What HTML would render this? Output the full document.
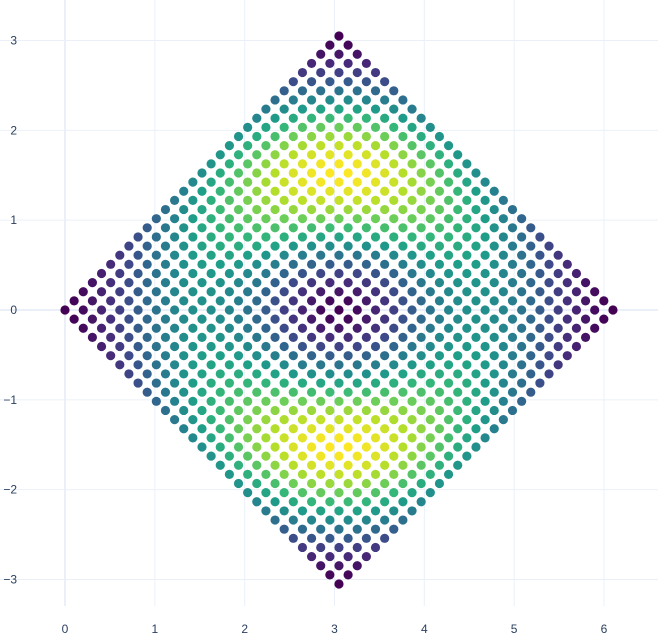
<!DOCTYPE html>
<html><head><meta charset="utf-8">
<style>
html,body{margin:0;padding:0;background:#fff;}
svg{display:block;font-family:"Liberation Sans",sans-serif;}
</style></head>
<body>
<svg id="chart" width="658" height="634" viewBox="0 0 658 634">
<g id="grid"></g>
<g id="points"></g>
<g id="xticks"></g>
<g id="yticks"></g>
</svg>
<script>
const xTicks = [0, 1, 2, 3, 4, 5, 6];
const yTicks = [3, 2, 1, 0, -1, -2, -3];
const yTickLabels = ["3", "2", "1", "0", "\u22121", "\u22122", "\u22123"];
const gridSteps = [0,1,2,3,4,5,6,7,8,9,10,11,12,13,14,15,16,17,18,19,20,21,22,23,24,25,26,27,28,29,30];
const halfWidth = [3.05];
const viridis = ["#440154","#482878","#3e4989","#31688e","#26828e","#1f9e89","#35b779","#6ece58","#b5de2b","#fde725"];

const NS = "http://www.w3.org/2000/svg";
const sx = v => 65 + v * 89.83;
const sy = v => 310 - v * 89.83;

function mk(tag, attrs, parent) {
  const e = document.createElementNS(NS, tag);
  for (const k in attrs) e.setAttribute(k, attrs[k]);
  parent.appendChild(e);
  return e;
}
function hexToRgb(h){return [1,3,5].map(i=>parseInt(h.substr(i,2),16));}
function colorAt(t){
  t = Math.max(0, Math.min(1, t));
  const p = t * (viridis.length - 1);
  const i = Math.min(Math.floor(p), viridis.length - 2);
  const f = p - i;
  const a = hexToRgb(viridis[i]), b = hexToRgb(viridis[i+1]);
  return "rgb(" + a.map((v,k)=>Math.round(v + (b[k]-v)*f)).join(",") + ")";
}

const grid = document.getElementById("grid");
xTicks.forEach(v => {
  const l = mk("line", {x1: sx(v), x2: sx(v), y1: 0, y2: 606, stroke: "#ebf0f8", "stroke-width": v === 0 ? 2 : 1}, grid);
  
  
});
yTicks.forEach(v => {
  const l = mk("line", {x1: 0, x2: 658, y1: sy(v), y2: sy(v), stroke: "#ebf0f8", "stroke-width": v === 0 ? 2 : 1}, grid);
  
  
});

const pts = document.getElementById("points");
const H = halfWidth[0];
const s = H / (gridSteps.length - 1);
gridSteps.forEach(u => {
  gridSteps.forEach(v => {
    const x = (u + v) * s;
    const y = (u - v) * s;
    const X = x - H, Y = y;
    const r = Math.sqrt(X * X + Y * Y);
    const sin2 = r > 0 ? (Y * Y) / (r * r) : 0;
    const base = Math.max(0, Math.sin(Math.PI * Math.min(r, H) / H));
    const t = Math.pow(base, 1.8) * (0.5 + 0.5 * sin2);
    const c = mk("circle", {cx: sx(x), cy: sy(y), r: 4.6, fill: colorAt(t)}, pts);
    
    
  });
});

const xt = document.getElementById("xticks");
xTicks.forEach(v => {
  const t = mk("text", {x: sx(v), y: 633, "text-anchor": "middle", "font-size": 12, fill: "#2a3f5f"}, xt);
  t.textContent = String(v);
  
  
});
const yt = document.getElementById("yticks");
yTicks.forEach((v, i) => {
  const t = mk("text", {x: 17, y: sy(v) + 4, "text-anchor": "end", "font-size": 12, fill: "#2a3f5f"}, yt);
  t.textContent = yTickLabels[i];
  
  
});
</script>
</body></html>
